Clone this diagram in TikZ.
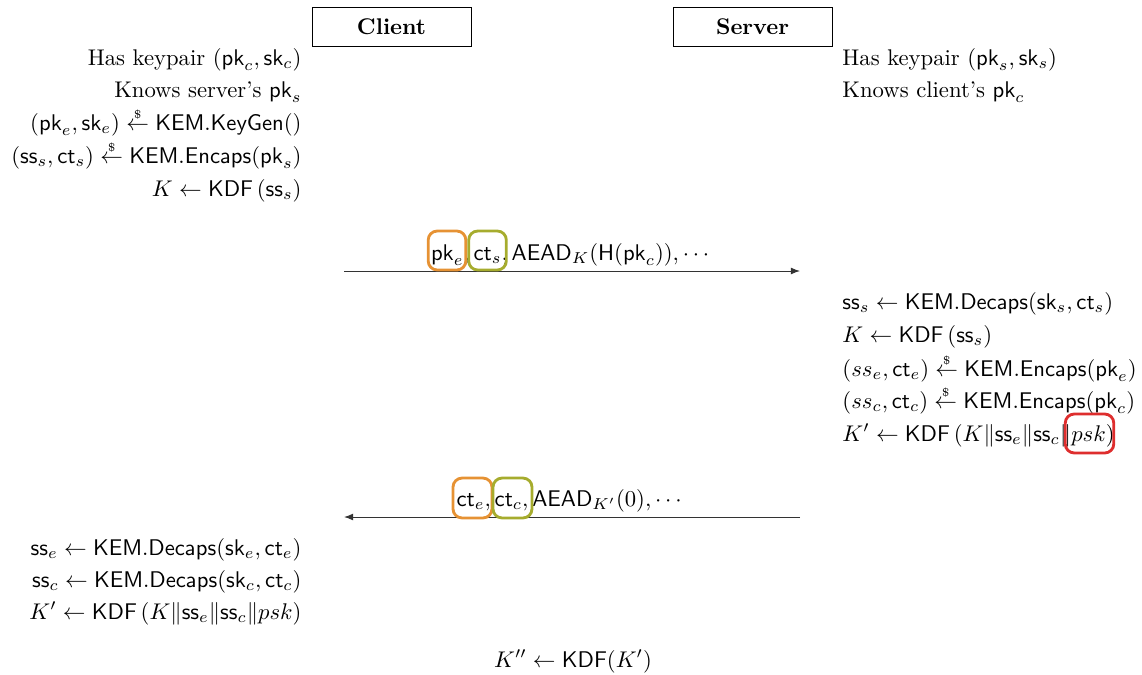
\documentclass[tikz,border=0pt]{standalone}
\usepackage{amsmath}
\usetikzlibrary{arrows.meta}
\definecolor{hlorange}{RGB}{230,146,52}
\definecolor{hlolive}{RGB}{166,172,46}
\definecolor{hlred}{RGB}{222,46,46}
% random sampling arrow
\newcommand{\rnd}{\stackrel{\raisebox{-0.3ex}{\tiny\$}}{\leftarrow}}
\begin{document}
\begin{tikzpicture}[x=0.441pt,y=-0.441pt,
  party/.style={draw, line width=0.4pt, minimum width=70.1pt, minimum height=16.8pt, font=\bfseries},
  lt/.style={inner sep=0pt, anchor=base east},
  rt/.style={inner sep=0pt, anchor=base west},
  mid/.style={inner sep=0pt, anchor=base},
  hlbox/.style={draw=#1, line width=1.25pt, rounded corners=4pt, inner sep=0pt},
  msg/.style={-{Latex[length=4pt,width=3pt]}, line width=0.4pt, draw=black!80}]
\useasboundingbox (0,0) rectangle (1142,674);

% parties
\node[party] (client) at (391.5,27) {Client};
\node[party] (server) at (752.5,27) {Server};

% client set-up
\node[lt] (c1) at (302,65)  {Has keypair $(\mathsf{pk}_c,\mathsf{sk}_c)$};
\node[lt] (c2) at (302,97)  {Knows server's $\mathsf{pk}_s$};
\node[lt] (c3) at (302,130) {$(\mathsf{pk}_e,\mathsf{sk}_e)\rnd\mathsf{KEM.KeyGen}()$};
\node[lt] (c4) at (302,163) {$(\mathsf{ss}_s,\mathsf{ct}_s)\rnd\mathsf{KEM.Encaps}(\mathsf{pk}_s)$};
\node[lt] (c5) at (302,196) {$K\leftarrow\mathsf{KDF}\left(\mathsf{ss}_s\right)$};

% server set-up
\node[rt] (s1) at (842,65) {Has keypair $(\mathsf{pk}_s,\mathsf{sk}_s)$};
\node[rt] (s2) at (842,97) {Knows client's $\mathsf{pk}_c$};

% first message
\coordinate (m1s) at (344,271);
\coordinate (m1e) at (800,271);
\draw[msg] (m1s) -- (m1e);
\node[mid] (m1) at (572,260) {$\mathsf{pk}_e,\mathsf{ct}_s,\mathsf{AEAD}_K(\mathsf{H}(\mathsf{pk}_c)),\cdots$};
\node[hlbox=hlorange, minimum width=16.6pt, minimum height=17.2pt] (hpke) at (447,250.5) {};
\node[hlbox=hlolive, minimum width=16.6pt, minimum height=17.2pt] (hcts) at (487.5,250.5) {};

% server processing
\node[rt] (s3) at (842,309) {$\mathsf{ss}_s\leftarrow\mathsf{KEM.Decaps}(\mathsf{sk}_s,\mathsf{ct}_s)$};
\node[rt] (s4) at (842,342) {$K\leftarrow\mathsf{KDF}\left(\mathsf{ss}_s\right)$};
\node[rt] (s5) at (842,376) {$(ss_e,\mathsf{ct}_e)\rnd\mathsf{KEM.Encaps}(\mathsf{pk}_e)$};
\node[rt] (s6) at (842,408) {$(ss_c,\mathsf{ct}_c)\rnd\mathsf{KEM.Encaps}(\mathsf{pk}_c)$};
\node[rt] (s7) at (842,441) {$K'\leftarrow\mathsf{KDF}\left(K\|\mathsf{ss}_e\|\mathsf{ss}_c\|psk\right)$};
\node[hlbox=hlred, minimum width=21.4pt, minimum height=17.2pt] (hpsk) at (1089.5,433.5) {};

% second message
\coordinate (m2s) at (800,517);
\coordinate (m2e) at (344,517);
\draw[msg] (m2s) -- (m2e);
\node[mid] (m2) at (571,506) {$\mathsf{ct}_e,\mathsf{ct}_c,\mathsf{AEAD}_{K'}(0),\cdots$};
\node[hlbox=hlorange, minimum width=17.2pt, minimum height=17.6pt] (hcte) at (472.5,498) {};
\node[hlbox=hlolive, minimum width=17.2pt, minimum height=17.6pt] (hctc) at (512.5,498) {};

% client processing
\node[lt] (c6) at (302,555) {$\mathsf{ss}_e\leftarrow\mathsf{KEM.Decaps}(\mathsf{sk}_e,\mathsf{ct}_e)$};
\node[lt] (c7) at (302,587) {$\mathsf{ss}_c\leftarrow\mathsf{KEM.Decaps}(\mathsf{sk}_c,\mathsf{ct}_c)$};
\node[lt] (c8) at (302,619) {$K'\leftarrow\mathsf{KDF}\left(K\|\mathsf{ss}_e\|\mathsf{ss}_c\|psk\right)$};

% final key
\node[mid] (fin) at (573,667) {$K''\leftarrow\mathsf{KDF}(K')$};
\end{tikzpicture}
\end{document}
